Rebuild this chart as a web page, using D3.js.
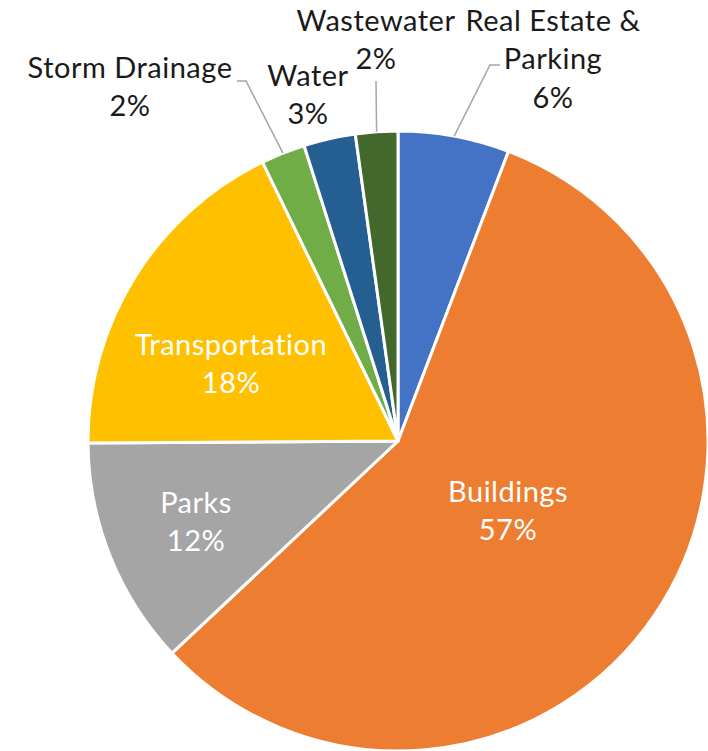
<!DOCTYPE html>
<html><head><meta charset="utf-8">
<script src="https://cdn.jsdelivr.net/npm/d3@7/dist/d3.min.js"></script>
<style>body{margin:0;background:#fff}svg{display:block}text{font-family:Lato,"Open Sans",sans-serif}</style>
</head><body>
<svg id="c" width="708" height="751"></svg>
<script>
const categories = ["Real Estate & Parking","Buildings","Parks","Transportation","Storm Drainage","Water","Wastewater"];
const values = [5.8, 57.2, 11.9, 17.9, 2.3, 2.7, 2.2];
const colors = ["#4472C4","#ED7D31","#A5A5A5","#FFC000","#70AD47","#255E91","#43682B"];
// label layout: text lines, centre offset from pie centre, inside/outside, leader elbow
const labelLines = [["Real Estate &","Parking"],["Buildings"],["Parks"],["Transportation"],["Storm Drainage"],["Water"],["Wastewater"]];
const labelOffsets = [[155,-382],[110,70],[-202,81],[-167,-77],[-268,-354],[-90,-346],[-22,-401]];
const labelInside = [false,true,true,true,false,false,false];
const leaders = [[[92,-376],[102,-376]],null,null,null,[[-152,-360],[-161,-360]],null,[[-22,-360]]];

const W=708,H=751,cx=398,cy=441,R=310,fs=29,lh=38.5;
const svg=d3.select("#c");
const g=svg.append("g").attr("transform",`translate(${cx},${cy})`);
const pie=d3.pie().sort(null).value(d=>d)(values);
const arc=d3.arc().innerRadius(0).outerRadius(R);
g.selectAll("path.s").data(pie).join("path").attr("class","s")
  .attr("d",arc).attr("fill",(d,i)=>colors[i]).attr("stroke","#fff").attr("stroke-width",3).attr("stroke-linejoin","round");

const total=d3.sum(values);
pie.forEach((d,i)=>{
  const pct=Math.round(d.value/total*100)+"%";
  const lines=labelLines[i].concat([pct]);
  const [ox,oy]=labelOffsets[i];
  const t=g.append("text").attr("text-anchor","middle").attr("font-size",fs).attr("letter-spacing","0.5px")
    .attr("fill",labelInside[i]?"#fff":"#1a1a1a");
  const n=lines.length;
  lines.forEach((l,k)=>{
    t.append("tspan").attr("x",ox).attr("y",oy+(k-(n-1)/2)*lh).attr("dy","0.35em").text(l);
  });
  if(leaders[i]){
    const a=(d.startAngle+d.endAngle)/2;
    const p0=[Math.sin(a)*R,-Math.cos(a)*R];
    const pts=[p0].concat(leaders[i]);
    g.append("path").attr("d",d3.line()(pts)).attr("fill","none").attr("stroke","#A6A6A6").attr("stroke-width",1.5);
  }
});
</script>
</body></html>
